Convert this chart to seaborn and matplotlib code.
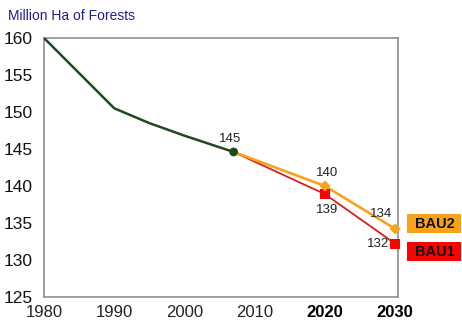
import matplotlib
matplotlib.use("Agg")
import matplotlib.pyplot as plt
from matplotlib.patches import Rectangle
import seaborn as sns
import pandas as pd

# Forest area, million hectares
hist_years = [1980, 1990, 1995, 2000, 2007]
hist_values = [160.0, 150.5, 148.5, 146.8, 144.6]

scen_years = [2007, 2020, 2030]
bau2_values = [144.6, 140.0, 134.2]
bau1_values = [144.6, 138.9, 132.2]

x_ticks = [1980, 1990, 2000, 2010, 2020, 2030]
y_ticks = [125, 130, 135, 140, 145, 150, 155, 160]

GREEN = "#1e4a1e"
ORANGE = "#f7a21b"
RED = "#d81e1e"
RED_BOX = "#ff0000"

sns.set_style("white")
plt.rcParams["font.family"] = ["Liberation Sans", "DejaVu Sans"]

hist = pd.DataFrame({"year": hist_years, "value": hist_values})
bau2 = pd.DataFrame({"year": scen_years, "value": bau2_values})
bau1 = pd.DataFrame({"year": scen_years, "value": bau1_values})

fig = plt.figure(figsize=(4.62, 3.22), dpi=100)
ax = fig.add_axes([44 / 462, 1 - 297 / 322, (398 - 44) / 462, (297 - 38) / 322])

sns.lineplot(data=bau1, x="year", y="value", ax=ax, color=RED, lw=1.3, zorder=2)
sns.lineplot(data=bau2, x="year", y="value", ax=ax, color=ORANGE, lw=1.9, zorder=3)
sns.lineplot(data=hist, x="year", y="value", ax=ax, color=GREEN, lw=1.8, zorder=4)

sns.scatterplot(data=bau1.iloc[1:], x="year", y="value", ax=ax, marker="s",
                s=55, color=RED_BOX, edgecolor="none", zorder=5, clip_on=False)
sns.scatterplot(data=bau2.iloc[1:], x="year", y="value", ax=ax, marker="D",
                s=32, color=ORANGE, edgecolor="none", zorder=6, clip_on=False)
sns.scatterplot(data=hist.iloc[-1:], x="year", y="value", ax=ax, marker="o",
                s=40, color=GREEN, edgecolor="none", zorder=7, clip_on=False)

# Value labels next to the marked points
lab_kw = dict(textcoords="offset pixels", ha="center", va="center",
              fontsize=9.5, color="#222222")
ax.annotate(f"{hist_values[-1]:.0f}", (hist_years[-1], hist_values[-1]),
            xytext=(-4, 13), **lab_kw)
ax.annotate(f"{bau2_values[1]:.0f}", (scen_years[1], bau2_values[1]),
            xytext=(2, 13), **lab_kw)
ax.annotate(f"{bau1_values[1]:.0f}", (scen_years[1], bau1_values[1]),
            xytext=(2, -16), **lab_kw)
ax.annotate(f"{bau2_values[2]:.0f}", (scen_years[2], bau2_values[2]),
            xytext=(-14, 15), **lab_kw)
ax.annotate(f"{bau1_values[2]:.0f}", (scen_years[2], bau1_values[2]),
            xytext=(-17, 0), **lab_kw)

ax.set_xlim(1980, 2030.4)
ax.set_ylim(125, 160)
ax.set_xticks(x_ticks)
ax.set_xticks(range(1980, 2031), minor=True)
ax.set_yticks(y_ticks)
ax.set_xlabel("")
ax.set_ylabel("")

ax.tick_params(axis="both", which="both", direction="in", color="#999999", width=0.8)
ax.tick_params(axis="x", which="major", length=4, pad=6, labelsize=12, labelcolor="#222222")
ax.tick_params(axis="x", which="minor", length=3)
ax.tick_params(axis="y", which="major", length=3, pad=8, labelsize=12.5, labelcolor="#111111")

for lbl in ax.get_xticklabels():
    if lbl.get_text() in ("2020", "2030"):
        lbl.set_fontweight("bold")
        lbl.set_color("black")

for side in ("left", "bottom", "top", "right"):
    ax.spines[side].set_visible(True)
    ax.spines[side].set_color("#8f8f8f")
    ax.spines[side].set_linewidth(1.2)

fig.text(8 / 462, 1 - 16 / 322, "Million Ha of Forests", fontsize=10,
         color="#1f1f8f", ha="left", va="center")

# Scenario key boxes
for (name, col, y0) in (("BAU2", ORANGE, 214), ("BAU1", RED_BOX, 242)):
    fig.patches.append(Rectangle((407 / 462, 1 - (y0 + 19) / 322), 54 / 462, 19 / 322,
                                 transform=fig.transFigure, facecolor=col,
                                 edgecolor="none"))
    fig.text(415 / 462, 1 - (y0 + 10) / 322, name, fontsize=10.5, fontweight="bold",
             color="#111111", ha="left", va="center")

fig.savefig("out.png", dpi=100)
